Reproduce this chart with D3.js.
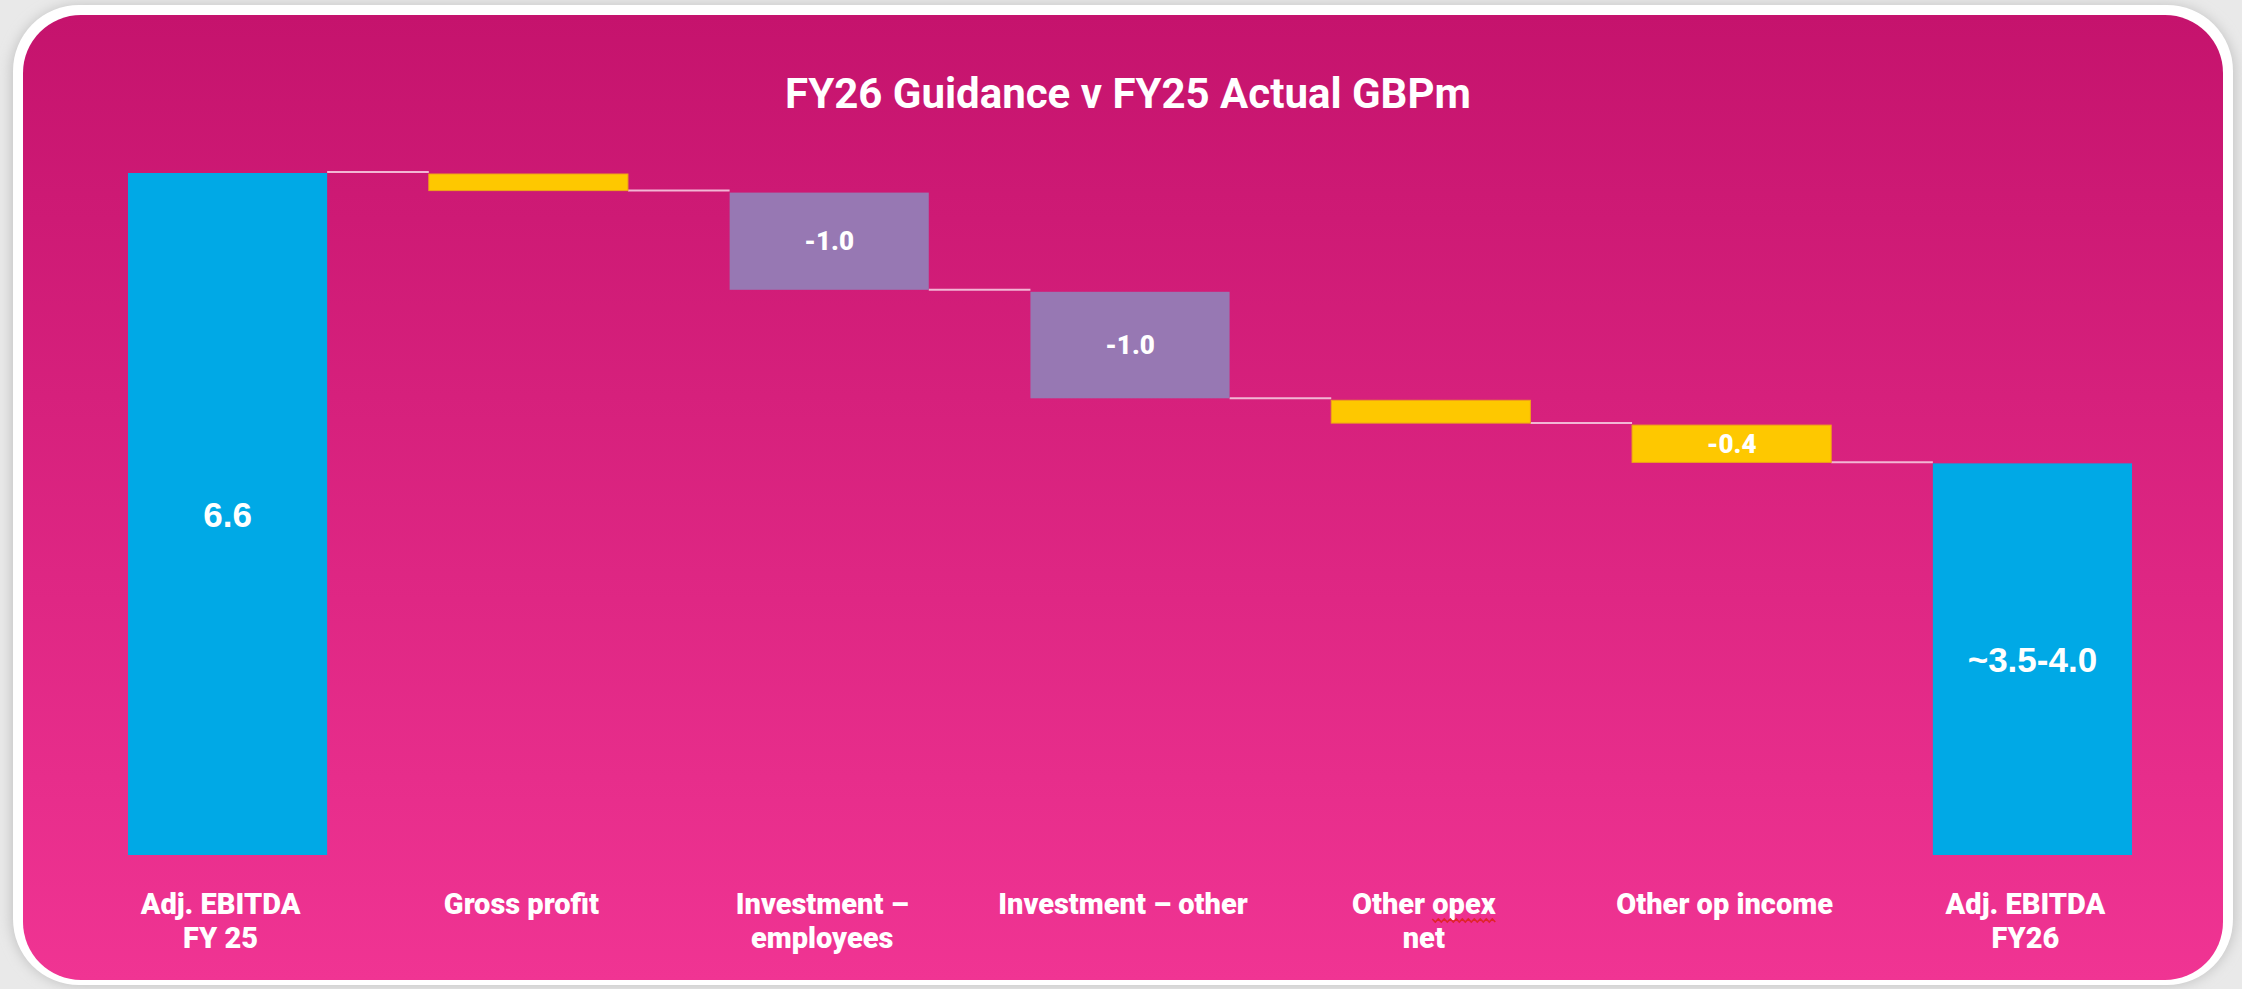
<!DOCTYPE html>
<html>
<head>
<meta charset="utf-8">
<script src="https://cdn.jsdelivr.net/npm/d3@7"></script>
<style>
  html, body { margin: 0; padding: 0; background: #e9e9e9; }
  svg { display: block; }
</style>
</head>
<body>
<div id="chart"></div>
<script>
let width = 2242;
let height = 989;

// chart data
let categories = ["Adj. EBITDA FY 25", "Gross profit", "Investment – employees", "Investment – other", "Other opex net", "Other op income", "Adj. EBITDA FY26"];
let catLines = [["Adj. EBITDA", "FY 25"], ["Gross profit"], ["Investment –", "employees"], ["Investment – other"], ["Other opex", "net"], ["Other op income"], ["Adj. EBITDA", "FY26"]];
let values = [6.6, -0.18, -0.96, -1.05, -0.24, -0.38, 3.79];
let kinds = ["total", "delta", "delta", "delta", "delta", "delta", "total"];
let valueLabels = ["6.6", "", "-1.0", "-1.0", "", "-0.4", "~3.5-4.0"];
let barColors = ["#00A9E6", "#FEC800", "#9778B3", "#9778B3", "#FEC800", "#FEC800", "#00A9E6"];
let title = "FY26 Guidance v FY25 Actual GBPm";

// running totals for the waterfall
let running = 0;
let bars = categories.map((c, i) => {
	let start, end;
	if (kinds[i] == "total") { start = 0; end = values[i]; running = values[i]; }
	else { start = running; end = running + values[i]; running = end; }
	return { cat: c, lines: catLines[i], start: start, end: end, kind: kinds[i], label: valueLabels[i], color: barColors[i] };
});

let svg = d3.select("#chart")
	.append("svg")
	.attr("width", width).attr("height", height);

let defs = svg.append("defs");
let grad = defs.append("linearGradient").attr("id", "bg").attr("x1", 0).attr("y1", 0).attr("x2", 0).attr("y2", 1);
grad.append("stop").attr("offset", "0%").attr("stop-color", "#C5136D");
grad.append("stop").attr("offset", "100%").attr("stop-color", "#F03493");
let shadow = defs.append("filter").attr("id", "shadow").attr("x", "-5%").attr("y", "-5%").attr("width", "110%").attr("height", "110%");
shadow.append("feGaussianBlur").attr("stdDeviation", 6);

// panel: soft grey shadow, white border, pink gradient card
svg.append("rect").attr("x", 10).attr("y", 4).attr("width", 2226).attr("height", 983)
	.attr("rx", 70).attr("fill", "#c8c8c8").attr("filter", "url(#shadow)");
svg.append("rect").attr("x", 13).attr("y", 5).attr("width", 2220).attr("height", 980)
	.attr("rx", 66).attr("fill", "#ffffff");
svg.append("rect").attr("x", 23).attr("y", 15).attr("width", 2200).attr("height", 965)
	.attr("rx", 58).attr("fill", "url(#bg)");

svg.append("text")
	.attr("x", 1128).attr("y", 108)
	.attr("text-anchor", "middle")
	.attr("fill", "#ffffff")
	.style("font-family", "Roboto, 'Liberation Sans', sans-serif")
	.style("font-weight", 700)
	.style("font-size", "42px")
	.text(title);

let x = d3.scaleBand().domain(categories).range([128, 2132]).paddingInner(0.338).paddingOuter(0);
let y = d3.scaleLinear().domain([0, 6.6]).range([855, 173]);

// connectors
let g = svg.append("g");
g.selectAll(".connector").data(bars.slice(0, -1))
	.join("line")
	.attr("class", "connector")
	.attr("x1", d => x(d.cat) + x.bandwidth())
	.attr("x2", (d, i) => x(categories[i + 1]))
	.attr("y1", d => y(d.end) - 1)
	.attr("y2", d => y(d.end) - 1)
	.attr("stroke", "#f2b6d4")
	.attr("stroke-width", 2);

g.selectAll(".bar").data(bars)
	.join("rect")
	.attr("class", "bar")
	.attr("x", d => x(d.cat))
	.attr("width", x.bandwidth())
	.attr("y", d => y(Math.max(d.start, d.end)) + (d.kind == "delta" ? 1 : 0))
	.attr("height", d => Math.abs(y(d.start) - y(d.end)) - (d.kind == "delta" ? 2 : 0))
	.attr("fill", d => d.color)
	.attr("stroke", d => d.color == "#FEC800" ? "#EFA21A" : "none")
	.attr("stroke-width", 1);

// value labels inside bars
g.selectAll(".vlabel").data(bars.filter(d => d.label != ""))
	.join("text")
	.attr("class", "vlabel")
	.attr("x", d => x(d.cat) + x.bandwidth() / 2)
	.attr("y", d => (y(d.start) + y(d.end)) / 2 + (d.kind == "total" ? 13 : 9))
	.attr("text-anchor", "middle")
	.attr("fill", "#ffffff")
	.style("font-family", d => d.kind == "total" ? "'Liberation Sans', Arial, sans-serif" : "Roboto, 'Liberation Sans', sans-serif")
	.style("font-weight", d => d.kind == "total" ? 700 : 900)
	.style("font-size", d => d.kind == "total" ? "35px" : "26px")
	.text(d => d.label);

// category labels
let cl = g.selectAll(".clabel").data(bars)
	.join("text")
	.attr("class", "clabel")
	.attr("x", d => x(d.cat) + x.bandwidth() / 2 - 7)
	.attr("y", 914)
	.attr("text-anchor", "middle")
	.attr("fill", "#ffffff")
	.style("font-family", "Roboto, 'Liberation Sans', sans-serif")
	.style("font-weight", 900)
	.style("font-size", "29px");
cl.selectAll("tspan").data(d => d.lines)
	.join("tspan")
	.attr("x", function() { return d3.select(this.parentNode).attr("x"); })
	.attr("dy", (d, i) => i == 0 ? 0 : 34)
	.text(d => d);

// red spell-check squiggle under "opex"
let opexNode = cl.filter(d => d.lines[0] == "Other opex").node();
if (opexNode) {
	let sx = opexNode.getStartPositionOfChar(6).x;
	let ex = opexNode.getEndPositionOfChar(9).x;
	let pts = [];
	for (let px = sx, k = 0; px <= ex + 1; px += 3, k++) pts.push([px, 920 + (k % 2 ? 2 : -1)]);
	g.append("path")
		.attr("d", d3.line()(pts))
		.attr("fill", "none")
		.attr("stroke", "#e0242a")
		.attr("stroke-width", 1.6);
}
</script>
</body>
</html>
